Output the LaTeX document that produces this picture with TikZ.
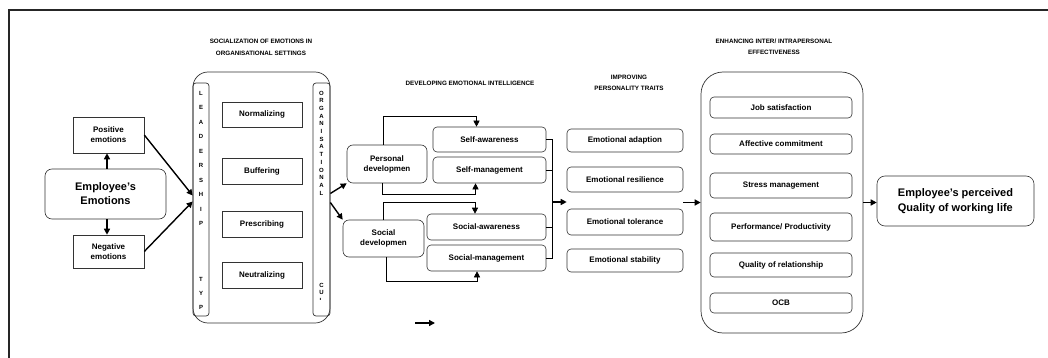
\documentclass[tikz,border=0pt]{standalone}
\usepackage{fontspec}
\setmainfont{Liberation Sans}
\usetikzlibrary{arrows.meta}

\begin{document}
\begin{tikzpicture}[x=1pt,y=-1pt,
    sbox/.style={draw=black!80, line width=.6pt, align=center, inner sep=0pt,
      font=\bfseries\fontsize{8}{10}\selectfont},
    rbox/.style={sbox, rounded corners=4pt},
    bigbox/.style={draw=black!80, line width=.7pt, inner sep=0pt},
    tag/.style={inner sep=0pt, align=center, font=\bfseries\fontsize{6.3}{11.5}\selectfont},
    ltr/.style={inner sep=0pt, font=\bfseries\fontsize{6}{6}\selectfont},
    thk/.style={line width=1.4pt, -{Triangle[length=6pt,width=6pt]}},
    thn/.style={line width=.6pt, -{Triangle[length=6pt,width=6pt]}}]
             \useasboundingbox (0,0) rectangle (1048,358);
             \draw[line width=2pt, black!85] (9,358) -- (9,10) -- (1048,10);

             \node[tag] (socT) at (261,47.5) {SOCIALIZATION OF EMOTIONS IN\\ORGANISATIONAL SETTINGS};
             \node[tag] (devT) at (470,83) {DEVELOPING EMOTIONAL INTELLIGENCE};
             \node[tag] (perT) at (629,83) {IMPROVING\\PERSONALITY TRAITS};
             \node[tag] (enhT) at (774,47) {ENHANCING INTER/ INTRAPERSONAL\\EFFECTIVENESS};

             \node[sbox, minimum width=71pt, minimum height=36pt] (pos) at (108.5,135) {Positive\\emotions};
             \node[rbox, rounded corners=7pt, minimum width=121pt, minimum height=50pt,
               font=\bfseries\fontsize{11}{14}\selectfont] (emo) at (105.5,194) {Employee’s\\Emotions};
             \node[sbox, minimum width=71pt, minimum height=33pt] (neg) at (108.5,251.5) {Negative\\emotions};

             \node[bigbox, rounded corners=15pt, minimum width=137pt, minimum height=251pt] (socz) at (261.5,197.5) {};
             \node[bigbox, rounded corners=3pt, minimum width=16pt, minimum height=233pt] (lead) at (201,199.5) {};
             \node[bigbox, rounded corners=3pt, minimum width=17pt, minimum height=233pt] (org) at (321.5,199.5) {};
             \foreach \c [count=\i] in {L,E,A,D,E,R,S,H,I,P}
               \node[ltr] (ld\i) at (201,{93+(\i-1)*14.5}) {\c};
             \foreach \c [count=\i] in {T,Y,P}
               \node[ltr] (lt\i) at (201,{279+(\i-1)*14}) {\c};
             \foreach \c [count=\i] in {O,R,G,A,N,I,S,A,T,I,O,N,A,L}
               \node[ltr] (og\i) at (321.5,{93+(\i-1)*7.7}) {\c};
             \begin{scope}
               \clip (313,270) rectangle (330,299);
               \foreach \c [count=\i] in {C,U,L}
                 \node[ltr] (oc\i) at (321.5,{285+(\i-1)*7.5}) {\c};
             \end{scope}

             \node[sbox, minimum width=80pt, minimum height=25pt] (norm) at (262,114.5) {Normalizing};
             \node[sbox, minimum width=80pt, minimum height=26pt] (buff) at (262,171) {Buffering};
             \node[sbox, minimum width=80pt, minimum height=26pt] (pres) at (262,224) {Prescribing};
             \node[sbox, minimum width=80pt, minimum height=26pt] (neut) at (262,275) {Neutralizing};

             \node[rbox, rounded corners=6pt, minimum width=80pt, minimum height=38pt] (pers) at (387,164) {Personal\\developmen};
             \node[rbox, rounded corners=6pt, minimum width=81pt, minimum height=37pt] (socd) at (383.5,238.5) {Social\\developmen};
             \node[rbox, minimum width=113pt, minimum height=25pt] (sa) at (489.5,139.5) {Self-awareness};
             \node[rbox, minimum width=113pt, minimum height=26pt] (sm) at (489.5,170) {Self-management};
             \node[rbox, minimum width=119pt, minimum height=26pt] (soa) at (486.5,227) {Social-awareness};
             \node[rbox, minimum width=119pt, minimum height=26pt] (som) at (486.5,258) {Social-management};

             \node[rbox, minimum width=116pt, minimum height=23pt] (ead) at (625,140.5) {Emotional adaption};
             \node[rbox, minimum width=116pt, minimum height=25pt] (eres) at (625,179.5) {Emotional resilience};
             \node[rbox, minimum width=116pt, minimum height=26pt] (etol) at (625,222) {Emotional tolerance};
             \node[rbox, minimum width=116pt, minimum height=23pt] (estb) at (625,260.5) {Emotional stability};

             \node[bigbox, rounded corners=22pt, minimum width=162pt, minimum height=261pt] (enh) at (782,202.5) {};
             \node[rbox, minimum width=142pt, minimum height=21pt] (job) at (781,107.5) {Job satisfaction};
             \node[rbox, minimum width=142pt, minimum height=20pt] (aff) at (781,144) {Affective commitment};
             \node[rbox, minimum width=142pt, minimum height=25pt] (str) at (781,185.5) {Stress management};
             \node[rbox, minimum width=142pt, minimum height=28pt] (perf) at (781,227) {Performance/ Productivity};
             \node[rbox, minimum width=142pt, minimum height=24pt] (qual) at (781,265) {Quality of relationship};
             \node[rbox, minimum width=142pt, minimum height=20pt] (ocb) at (781,303) {OCB};

             \node[rbox, rounded corners=8pt, minimum width=157pt, minimum height=50pt, align=left,
               font=\bfseries\fontsize{11}{15}\selectfont] (qwl) at (955.5,201) {Employee’s perceived\\Quality of working life};

             \draw[thk] ([xshift=1.5pt]emo.north) -- ([xshift=1.5pt]emo.north |- pos.south);
             \draw[thk] ([xshift=1.5pt]emo.south) -- ([xshift=1.5pt]emo.south |- neg.north);
             \draw[thk] (pos.east) -- ([yshift=4pt]lead.west);
             \draw[thk] (neg.east) -- ([yshift=-2pt]lead.west);

             \draw[thk] ([yshift=6pt]org.east) -- (pers.south west);
             \draw[thk] ([yshift=-3pt]org.east) -- (socd.north west);

             \draw[thn] ([xshift=-4pt]pers.north) -- ++(0,-28) -| ([xshift=-13pt]sa.north);
             \draw[thn] ([xshift=-5pt]pers.south) -- ++(0,11) -| ([xshift=-14pt]sm.south);
             \draw[thn] ([xshift=-.5pt]socd.north) -- ++(0,-17) -| ([xshift=-11.5pt]soa.north);
             \draw[thn] ([xshift=2.5pt]socd.south) -- ++(0,24) -| ([xshift=-9.5pt]som.south);

             \coordinate (brk) at (552,202);
             \draw[line width=.6pt] (sa.east) -| (brk);
             \draw[line width=.6pt] (sm.east) -| (brk);
             \draw[line width=.6pt] (soa.east) -| (brk);
             \draw[line width=.6pt] (som.east) -| (brk);
             \draw[thk] (brk) -- (brk -| ead.west);

             \draw[thk] (enh.west -| ead.east) -- (enh.west);
             \draw[thk] (enh.east) -- (enh.east -| qwl.west);

             \coordinate (sp1) at (415,323);
             \coordinate (sp2) at (435,323);
             \draw[thk] (sp1) -- (sp2);
\end{tikzpicture}
\end{document}
